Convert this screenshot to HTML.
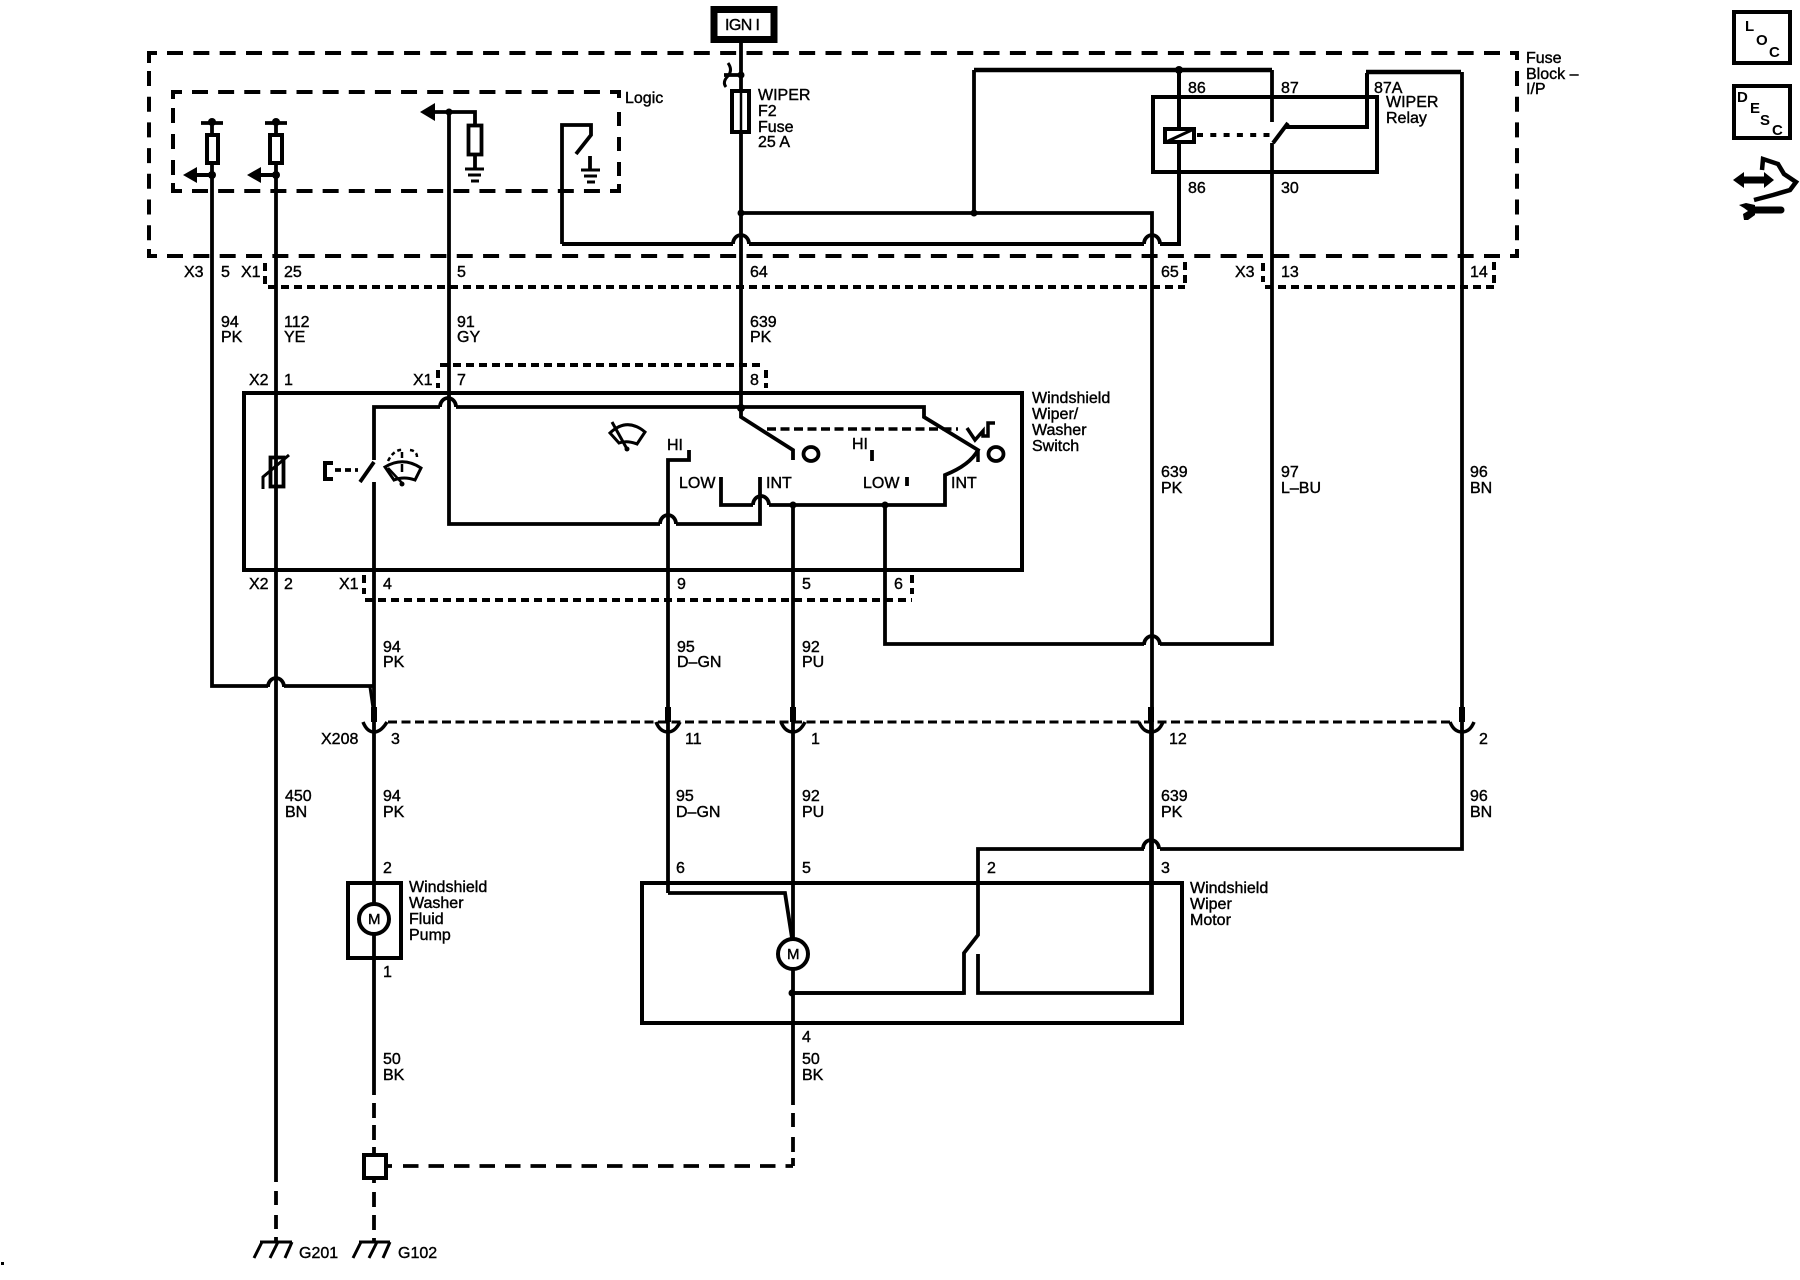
<!DOCTYPE html>
<html><head><meta charset="utf-8"><style>
html,body{margin:0;padding:0;background:#fff}
svg{display:block}
text{font-family:"Liberation Sans",sans-serif;font-size:16px;fill:#000;stroke:#000;stroke-width:.4}
.b{font-weight:bold;font-size:15px;stroke-width:0}
</style></head><body>
<svg width="1800" height="1280" viewBox="0 0 1800 1280" xmlns="http://www.w3.org/2000/svg">
<g fill="none" stroke="#000" stroke-width="3.8">
<!-- IGN -->
<rect x="714" y="9.500" width="60" height="30" stroke-width="7"/>
<!-- dashed enclosures -->
<g stroke-width="4">
<path d="M149 63V53H157M149 249V256H157M1510 53H1517V60M1510 256H1517V249"/>
<path d="M167 53H1500M167 256H1500" stroke-dasharray="16 10.340"/>
<path d="M149 71V245M1517 71V245" stroke-dasharray="15 10.700"/>
<path d="M173 99V92H182M173 183V191H182M610 92H619V98M610 191H619V184"/>
<path d="M192 92H606M192 191H606" stroke-dasharray="16 10.130"/>
<path d="M173 108V176" stroke-dasharray="15 11"/>
<path d="M619 112V176" stroke-dasharray="14 11"/>
</g>
<!-- connector dashed -->
<g stroke-width="4" stroke-dasharray="8 5">
<path d="M268 287H1185"/><path d="M1265 287H1494"/><path d="M440 365H764"/><path d="M365 600H912"/>
<path d="M265 263V284"/><path d="M1185 262V284"/><path d="M1263 263V282"/><path d="M1494 262V284"/>
<path d="M438 370V388"/><path d="M766 370V388"/><path d="M364 575V594"/><path d="M912 575V594"/>
</g>
<path d="M388 722H1450" stroke-width="3" stroke-dasharray="9 4.500"/>
<!-- boxes -->
<rect x="244" y="393" width="778" height="177" stroke-width="4"/>
<rect x="1153" y="97" width="224" height="75" stroke-width="4"/>
<rect x="348" y="883" width="53" height="75" stroke-width="4"/>
<rect x="642" y="883" width="540" height="140" stroke-width="4"/>
<!-- wire A 94 PK -->
<path d="M212 122V686H268M284 686H373"/>
<path d="M268 687A8 9 0 0 1 284 687"/>
<path d="M370 687L374 715" stroke-width="3"/>
<!-- wire B -->
<path d="M276 122V1182M276 1191V1205M276 1215V1229M276 1237V1242"/>
<!-- wire C -->
<path d="M449 112V400M449 400V524H660M676 524H760V477"/>
<path d="M660 524A8 9 0 0 1 676 524"/>
<path d="M430 112H475V125"/>
<path d="M475 154V168"/>
<rect x="468.500" y="125.500" width="13" height="29"/>
<!-- logic switch and line -->
<path d="M562 244V125H591V135L576 154"/>
<path d="M562 244H733M749 244H1144M1160 244H1179V67" stroke-width="4"/>
<path d="M733 244A8 9 0 0 1 749 244M1144 244A8 9 0 0 1 1160 244"/>
<!-- IGN feed -->
<path d="M741 43V408L741 417L793 450V460"/>
<path d="M724 75H741"/>
<path d="M728 63Q733 70 728 76Q722 82 726 87" stroke-width="3"/>
<rect x="732" y="91" width="17" height="41" fill="#fff" stroke-width="4"/>
<path d="M741 91V132" stroke-width="2.500"/>
<!-- bus -->
<path d="M741 213H1152V993H978V954"/>
<path d="M974 213V70"/>
<path d="M974 70H1272" stroke-width="4.500"/>
<path d="M1272 70V122M1272 143V644H1160M1144 644H885V505"/>
<path d="M1144 645A8 9 0 0 1 1160 645"/>
<path d="M1288 123L1273 143" stroke-width="4"/>
<path d="M1286 127H1367V73" stroke-width="4"/>
<path d="M1366 72H1461" stroke-width="4.500"/>
<path d="M1462 72V722M1462 722V849H1160M1144 849H978V935L964 953V993H792"/>
<path d="M1143 849A8 9 0 0 1 1159 849"/>
<rect x="1165" y="129" width="29" height="13" fill="#fff" stroke-width="4"/>
<path d="M1166 142L1194 129" stroke-width="3"/>
<path d="M1197 135H1272" stroke-width="4" stroke-dasharray="6 7.300"/>
<!-- switch inner -->
<path d="M374 460V407H440M456 407H924V417L978 450Q970 465 945 475V505H769M753 505H721V477"/>
<path d="M440 407A8 9 0 0 1 456 407M753 505A8 9 0 0 1 769 505"/>
<path d="M374 462L360 482"/>
<path d="M374 482V1095M374 1103V1118M374 1125V1140M374 1147V1155"/>
<path d="M335 470H358" stroke-dasharray="6 4"/>
<path d="M333 463H325V479H333" stroke-width="4"/>
<path d="M689 450V460H668V893"/>
<path d="M668 893H785L792 938"/>
<path d="M793 505V1105M793 1113V1127M793 1137V1152"/>
<path d="M872 450V461"/>
<path d="M907 477V486"/>
<path d="M767 429H958" stroke-dasharray="9 4.500" stroke-width="3.500"/>
<path d="M967 428L975 440L983 431V436H988V423H995" stroke-width="3.500"/>
<ellipse cx="811" cy="454" rx="7.500" ry="7"/>
<ellipse cx="996" cy="454" rx="7.500" ry="7"/>
<path d="M978 450V462" stroke-width="3.500"/>
<!-- thermistor -->
<rect x="270.500" y="457.500" width="13" height="29"/>
<path d="M263 489V477L289 455" stroke-width="3"/>
<!-- motor contacts -->
<path d="M792 993H964"/>
<path d="M1151 993V723"/>
<!-- resistors and grounds -->
<rect x="207" y="135" width="11" height="28" fill="#fff" stroke-width="4"/>
<rect x="270" y="135" width="12" height="28" fill="#fff" stroke-width="4"/>
<path d="M201 123H223M265 123H287"/>
<path d="M465 169H484M468 175H481M471 181H479" stroke-width="3"/>
<path d="M590 156V170"/>
<path d="M581 170H600M584 176H597M587 182H595" stroke-width="3"/>
<!-- dashed bottom -->
<rect x="364" y="1155" width="22" height="23" fill="#fff" stroke-width="4"/>
<path d="M374 1178V1183M374 1192V1207M374 1215V1230M374 1238V1242"/>
<path d="M386 1166H392"/>
<path d="M403 1166H793" stroke-dasharray="15.500 10"/>
<path d="M793 1158V1166"/>
<!-- ground symbols -->
<path d="M260 1242H292M262 1242L254 1258M278 1242L270 1258M292 1242L285 1258" stroke-width="3"/>
<path d="M359 1242H390M361 1242L353 1258M377 1242L369 1258M390 1242L383 1258" stroke-width="3"/>
<!-- motors -->
<circle cx="374" cy="919" r="15" fill="#fff" stroke-width="4"/>
<circle cx="793" cy="954" r="15" fill="#fff" stroke-width="4"/>
<!-- wiper symbols -->
<path d="M610 433Q627 417 645 432L637 444Q627 440 619 443Z" stroke-width="3"/>
<path d="M612 422L627 449" stroke-width="3"/>
<path d="M385 467Q403 456 421 468L415 480Q404 476 394 480Z" stroke-width="3"/>
<path d="M388 468L402 483" stroke-width="2.500"/>
<path d="M388 461Q394 449 403 450M410 450Q417 451 417 457" stroke-width="2.500" stroke-dasharray="4 3"/>
<path d="M402 452V458M402 464V472" stroke-width="2.500"/>
<!-- connector cups -->
<g stroke-width="3.500">
<path d="M363 722Q367 732 374 732Q381 732 387 722"/>
<path d="M656 722Q660 732 668 732Q675 732 680 722"/>
<path d="M781 722Q785 732 793 732Q800 732 805 722"/>
<path d="M1139 722Q1143 732 1151 732Q1159 732 1163 722"/>
<path d="M1450 722Q1454 732 1462 732Q1470 732 1474 722"/>
</g>
<!-- right icons -->
<rect x="1734" y="12" width="56" height="51" stroke-width="4"/>
<rect x="1734" y="86" width="56" height="52" stroke-width="4"/>
<path d="M1762 170L1763 159L1778 164L1784 174L1796 182L1790 190L1773 195L1754 200" stroke-width="4.500"/>
<path d="M1742 180H1766" stroke-width="7"/>
<path d="M1755 210H1781" stroke-width="7" stroke-linecap="round"/>
</g>
<!-- filled -->
<g fill="#000" stroke="none">
<path d="M420 112L435 103V121Z"/>
<path d="M183 175L197 167V183Z"/><rect x="196" y="173" width="19" height="4"/>
<path d="M247 175L261 167V183Z"/><rect x="260" y="173" width="19" height="4"/>
<path d="M1733 180L1744 172V188Z"/><path d="M1774 180L1764 172V188Z"/>
<path d="M1739 205L1746 203L1755 205V215L1748 220L1744 220L1743 214L1748 211L1744 208Z"/>
<circle cx="212" cy="122" r="4"/><circle cx="276" cy="122" r="4"/>
<circle cx="212" cy="175" r="4"/><circle cx="276" cy="175" r="4"/>
<circle cx="449" cy="112" r="3.500"/><circle cx="741" cy="75" r="3.500"/>
<circle cx="741" cy="213" r="3.500"/><circle cx="974" cy="213" r="3.500"/>
<circle cx="1179" cy="70" r="4"/><circle cx="741" cy="408" r="4"/>
<circle cx="793" cy="505" r="3.500"/><circle cx="885" cy="505" r="3.500"/>
<circle cx="792" cy="993" r="3.500"/><circle cx="402" cy="484" r="2.500"/><circle cx="627" cy="449" r="2.500"/>
<rect x="371" y="707" width="6" height="15"/><rect x="665" y="707" width="6" height="15"/>
<rect x="790" y="707" width="6" height="15"/><rect x="1148" y="707" width="6" height="15"/>
<rect x="1459" y="707" width="6" height="15"/>
<rect x="1" y="1262" width="3" height="3"/>
</g>
<!-- labels -->
<text x="725" y="30" textLength="35">IGN I</text>
<text x="625" y="103">Logic</text>
<text x="758" y="100">WIPER</text><text x="758" y="116">F2</text><text x="758" y="132">Fuse</text><text x="758" y="147">25 A</text>
<text x="1526" y="63">Fuse</text><text x="1526" y="79">Block –</text><text x="1526" y="94">I/P</text>
<text x="1188" y="93">86</text><text x="1281" y="93">87</text><text x="1374" y="93">87A</text>
<text x="1386" y="107">WIPER</text><text x="1386" y="123">Relay</text>
<text x="1188" y="193">86</text><text x="1281" y="193">30</text>
<text x="184" y="277">X3</text><text x="221" y="277">5</text><text x="241" y="277">X1</text><text x="284" y="277">25</text><text x="457" y="277">5</text><text x="750" y="277">64</text><text x="1161" y="277">65</text><text x="1235" y="277">X3</text><text x="1281" y="277">13</text><text x="1470" y="277">14</text>
<text x="221" y="327">94</text><text x="221" y="342">PK</text>
<text x="284" y="327">112</text><text x="284" y="342">YE</text>
<text x="457" y="327">91</text><text x="457" y="342">GY</text>
<text x="750" y="327">639</text><text x="750" y="342">PK</text>
<text x="249" y="385">X2</text><text x="284" y="385">1</text><text x="413" y="385">X1</text><text x="457" y="385">7</text><text x="750" y="385">8</text>
<text x="1032" y="403">Windshield</text><text x="1032" y="419">Wiper/</text><text x="1032" y="435">Washer</text><text x="1032" y="451">Switch</text>
<text x="667" y="450">HI</text><text x="852" y="449">HI</text>
<text x="679" y="488">LOW</text><text x="766" y="488">INT</text><text x="863" y="488">LOW</text><text x="951" y="488">INT</text>
<text x="1161" y="477">639</text><text x="1161" y="493">PK</text>
<text x="1281" y="477">97</text><text x="1281" y="493">L–BU</text>
<text x="1470" y="477">96</text><text x="1470" y="493">BN</text>
<text x="249" y="589">X2</text><text x="284" y="589">2</text><text x="339" y="589">X1</text><text x="383" y="589">4</text><text x="677" y="589">9</text><text x="802" y="589">5</text><text x="894" y="589">6</text>
<text x="383" y="652">94</text><text x="383" y="667">PK</text>
<text x="677" y="652">95</text><text x="677" y="667">D–GN</text>
<text x="802" y="652">92</text><text x="802" y="667">PU</text>
<text x="321" y="744">X208</text><text x="391" y="744">3</text><text x="685" y="744">11</text><text x="811" y="744">1</text><text x="1169" y="744">12</text><text x="1479" y="744">2</text>
<text x="285" y="801">450</text><text x="285" y="817">BN</text>
<text x="383" y="801">94</text><text x="383" y="817">PK</text>
<text x="676" y="801">95</text><text x="676" y="817">D–GN</text>
<text x="802" y="801">92</text><text x="802" y="817">PU</text>
<text x="1161" y="801">639</text><text x="1161" y="817">PK</text>
<text x="1470" y="801">96</text><text x="1470" y="817">BN</text>
<text x="383" y="873">2</text><text x="676" y="873">6</text><text x="802" y="873">5</text><text x="987" y="873">2</text><text x="1161" y="873">3</text>
<text x="409" y="892">Windshield</text><text x="409" y="908">Washer</text><text x="409" y="924">Fluid</text><text x="409" y="940">Pump</text>
<text x="1190" y="893">Windshield</text><text x="1190" y="909">Wiper</text><text x="1190" y="925">Motor</text>
<text x="368" y="924" style="font-size:15px">M</text><text x="787" y="959" style="font-size:15px">M</text>
<text x="383" y="977">1</text><text x="802" y="1042">4</text>
<text x="383" y="1064">50</text><text x="383" y="1080">BK</text>
<text x="802" y="1064">50</text><text x="802" y="1080">BK</text>
<text x="299" y="1258">G201</text><text x="398" y="1258">G102</text>
<text class="b" x="1745" y="31">L</text><text class="b" x="1756" y="45">O</text><text class="b" x="1769" y="57">C</text>
<text class="b" x="1737" y="102">D</text><text class="b" x="1750" y="113">E</text><text class="b" x="1760" y="125">S</text><text class="b" x="1772" y="135">C</text>
</svg>
</body></html>
